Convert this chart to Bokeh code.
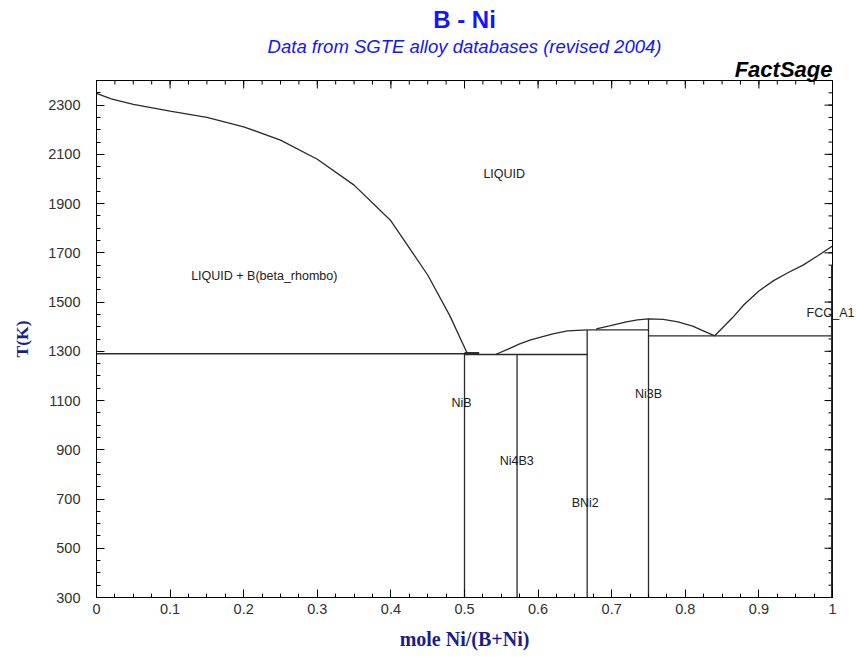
import math
from bokeh.plotting import figure
from bokeh.models import Range1d, FixedTicker, Title, ColumnDataSource, LabelSet, LinearAxis
from bokeh.core.properties import value
from bokeh.embed import file_html
from bokeh.resources import INLINE

# ---------------- data ----------------
# liquidus on the B-rich side (LIQUID / LIQUID + B(beta_rhombo))
liq_b_x = [0.0, 0.02, 0.05, 0.1, 0.15, 0.2, 0.25, 0.3, 0.35, 0.4, 0.45, 0.48, 0.504]
liq_b_T = [2348, 2325, 2303, 2276, 2250, 2212, 2158, 2080, 1975, 1830, 1610, 1445, 1290]
# liquidus of Ni4B3
liq_ni4b3_x = [0.543, 0.56, 0.575, 0.59, 0.605, 0.62, 0.64, 0.667]
liq_ni4b3_T = [1288, 1310, 1330, 1346, 1359, 1371, 1383, 1387]
# liquidus of Ni3B
liq_ni3b_x = [0.679, 0.697, 0.72, 0.735, 0.75, 0.77, 0.79, 0.81, 0.823, 0.84]
liq_ni3b_T = [1391, 1403, 1420, 1428, 1432, 1430, 1420, 1402, 1385, 1363]
# liquidus of Ni (FCC_A1)
liq_ni_x = [0.84, 0.852, 0.864, 0.88, 0.9, 0.92, 0.94, 0.96, 0.98, 1.0]
liq_ni_T = [1363, 1400, 1436, 1490, 1545, 1587, 1620, 1650, 1688, 1728]

# stoichiometric compounds: composition and upper temperature
comp_names = ["NiB", "Ni4B3", "BNi2", "Ni3B"]
comp_x = [0.5, 4 / 7, 2 / 3, 0.75]
comp_top_T = [1292, 1288, 1387, 1432]

# invariant (horizontal) lines
inv_x0 = [0.0, 0.5, 0.667, 0.75]
inv_x1 = [0.504, 0.667, 0.75, 1.0]
inv_T = [1290, 1287, 1387, 1363]

# NiB short top segment
nib_top_x = [0.5, 0.52]
nib_top_T = [1292, 1292]

# FCC_A1 single-phase strip along x = 1
fcc_x = [1.0, 1.0]
fcc_T = [1650, 300]

# region labels
lab_text = ["LIQUID", "LIQUID + B(beta_rhombo)", "NiB", "Ni4B3", "BNi2", "Ni3B"]
lab_x = [0.554, 0.228, 0.496, 0.571, 0.664, 0.75]
lab_T = [2020, 1606, 1091, 856, 685, 1128]
fcc_label = "FCC_A1"
fcc_label_T = 1456

# axes
x_min, x_max = 0.0, 1.0
T_min, T_max = 300, 2400
x_ticks = [0, 0.1, 0.2, 0.3, 0.4, 0.5, 0.6, 0.7, 0.8, 0.9, 1.0]
x_tick_labels = ["0", "0.1", "0.2", "0.3", "0.4", "0.5", "0.6", "0.7", "0.8", "0.9", "1"]
x_minor = [i * 0.025 for i in range(41)]
y_ticks = [300, 500, 700, 900, 1100, 1300, 1500, 1700, 1900, 2100, 2300]
y_minor = [300 + 50 * i for i in range(43)]

title_text = "B - Ni"
subtitle_text = "Data from SGTE alloy databases (revised 2004)"
brand_text = "FactSage"
x_label = "mole Ni/(B+Ni)"
y_label = "T(K)"

# ---------------- figure ----------------
LINE = "#2a2a2a"
p = figure(frame_width=736, frame_height=517, x_range=Range1d(x_min, x_max),
           y_range=Range1d(T_min, T_max),
           output_backend="svg", toolbar_location=None,
           min_border_left=96, min_border_right=8, min_border_top=0, min_border_bottom=0)
p.background_fill_color = "white"
p.border_fill_color = "white"
p.outline_line_color = "black"
p.outline_line_width = 1
p.grid.visible = False

for ax in [p.xaxis[0], p.yaxis[0]]:
    ax.major_tick_in = 8
    ax.major_tick_out = 0
    ax.minor_tick_in = 4
    ax.minor_tick_out = 0
    ax.axis_line_color = "black"
    ax.major_tick_line_color = "black"
    ax.minor_tick_line_color = "black"
    ax.major_label_text_font = "Liberation Sans"
    ax.major_label_text_font_size = "14.5px"
    ax.major_label_text_color = "#303030"
    ax.axis_label_text_font = "Liberation Serif"
    ax.axis_label_text_font_style = "bold"
    ax.axis_label_text_color = "#1c1c8c"

p.xaxis[0].ticker = FixedTicker(ticks=x_ticks, minor_ticks=x_minor)
p.xaxis[0].major_label_overrides = {t: l for t, l in zip(x_ticks, x_tick_labels)}
p.xaxis[0].major_label_standoff = 6
p.xaxis[0].axis_label = x_label
p.xaxis[0].axis_label_text_font_size = "20px"
p.xaxis[0].axis_label_standoff = 11

p.yaxis[0].ticker = FixedTicker(ticks=y_ticks, minor_ticks=y_minor)
p.yaxis[0].major_label_standoff = 16
p.yaxis[0].axis_label = y_label
p.yaxis[0].axis_label_text_font_size = "17.5px"
p.yaxis[0].axis_label_standoff = 13

# inward ticks on the top and right edges (half of each dash is clipped by the frame)
p.scatter(x=x_ticks, y=[T_max] * len(x_ticks), marker="dash", size=16, angle=math.pi / 2,
          line_color="black", line_width=1)
p.scatter(x=x_minor, y=[T_max] * len(x_minor), marker="dash", size=8, angle=math.pi / 2,
          line_color="black", line_width=1)
p.scatter(x=[x_max] * len(y_ticks), y=y_ticks, marker="dash", size=16,
          line_color="black", line_width=1)
p.scatter(x=[x_max] * len(y_minor), y=y_minor, marker="dash", size=8,
          line_color="black", line_width=1)

# the FCC_A1 region name straddles the right edge of the frame: drawn as a label
# of a tick-less axis on the right so that it is not clipped by the frame
fcc_axis = LinearAxis(ticker=FixedTicker(ticks=[fcc_label_T]),
                      major_label_overrides={fcc_label_T: fcc_label},
                      major_tick_in=0, major_tick_out=0, axis_line_color=None,
                      major_label_standoff=-26,
                      major_label_text_font="Liberation Sans",
                      major_label_text_font_size="12.5px",
                      major_label_text_color="#202020")
p.add_layout(fcc_axis, "right")

# titles (added from the plot outward)
p.add_layout(Title(text=brand_text, align="right", text_font="Liberation Sans",
                   text_font_style="bold italic", text_font_size="22px",
                   text_color="black", standoff=-2), "above")
p.add_layout(Title(text=subtitle_text, align="center", text_font="Liberation Sans",
                   text_font_style="italic", text_font_size="18.5px",
                   text_color="#1414ff", standoff=-3), "above")
p.add_layout(Title(text=title_text, align="center", text_font="Liberation Sans",
                   text_font_style="bold", text_font_size="24px",
                   text_color="#1414ff", standoff=6), "above")

# ---------------- lines ----------------
lw = 1.3
p.line(liq_b_x, liq_b_T, line_color=LINE, line_width=lw)
p.line(liq_ni4b3_x, liq_ni4b3_T, line_color=LINE, line_width=lw)
p.line(liq_ni3b_x, liq_ni3b_T, line_color=LINE, line_width=lw)
p.line(liq_ni_x, liq_ni_T, line_color=LINE, line_width=lw)

p.segment(x0=comp_x, y0=[T_min] * len(comp_x), x1=comp_x, y1=comp_top_T,
          line_color=LINE, line_width=lw)
p.segment(x0=inv_x0, y0=inv_T, x1=inv_x1, y1=inv_T, line_color=LINE, line_width=lw)
p.line(nib_top_x, nib_top_T, line_color=LINE, line_width=2.5)
p.line(fcc_x, fcc_T, line_color=LINE, line_width=3)

labels = LabelSet(x="x", y="y", text="text",
                  source=ColumnDataSource(dict(x=lab_x, y=lab_T, text=lab_text)),
                  text_font=value("Liberation Sans"), text_font_size=value("12.5px"),
                  text_color="#202020", text_align="center", text_baseline="middle")
p.add_layout(labels)

open("out.html", "w").write(file_html(p, INLINE))
